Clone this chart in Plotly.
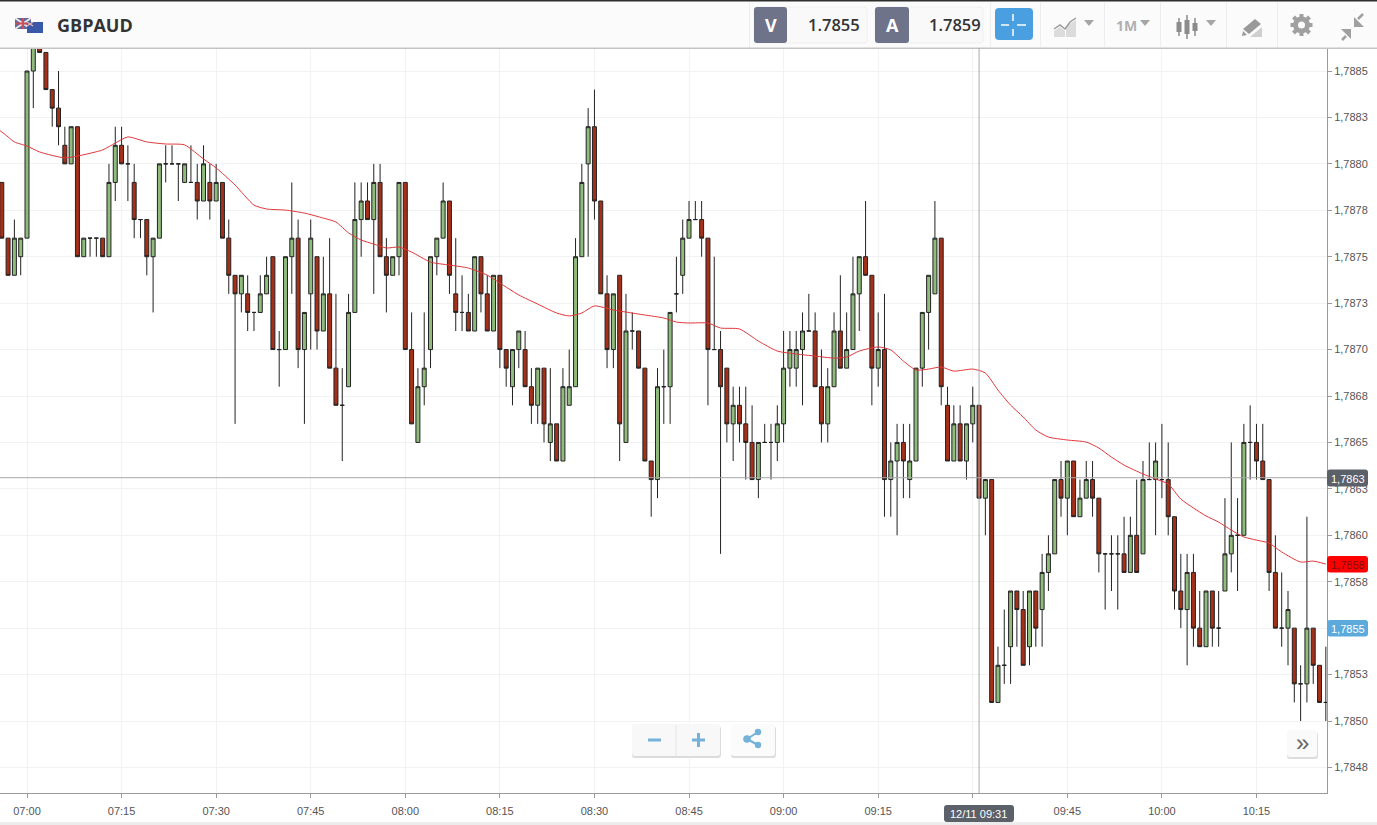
import pandas as pd
import plotly.graph_objects as go

# Candle values, in pips above 1.7800 (one row per minute from 06:56)
PIP = 0.0001
BASE = 1.78
opens = [79,76,74,75,76,85,87,86,84,83,81,80,82,75,76,76,76,75,79,81,80,79,77,77,75,76,80,80,80,79,
         79,79,78,79,78,79,76,74,73,73,72,72,73,75,70,70,75,76,70,73,75,71,73,69,67,68,72,77,78,77,
         79,75,74,75,79,70,65,68,70,75,76,78,73,72,72,71,75,73,71,74,70,68,70,70,68,67,69,65,66,64,
         67,68,75,80,82,78,73,70,74,65,71,71,69,64,63,68,68,73,74,76,77,77,76,70,70,69,66,67,66,65,
         63,65,65,65,66,69,69,70,71,71,68,66,68,71,69,70,73,75,74,69,70,63,64,65,63,64,69,72,73,76,
         67,64,66,64,66,67,62,63,51,53,54,57,56,54,57,56,58,59,63,62,64,61,62,63,62,59,59,59,59,58,
         60,59,63,63,63,63,61,57,56,58,55,54,57,55,57,59,60,60,65,65,64,63,58,55,55,55,52,52,55,53,51]
highs = [79,76,77,76,85,87,87,86,84,85,82,82,82,76,76,76,76,80,82,82,81,80,77,77,76,80,81,81,80,80,
         81,80,81,80,80,79,77,74,74,74,72,74,75,75,71,75,79,77,72,77,75,75,76,73,69,73,79,79,79,80,
         80,76,75,79,79,72,69,72,75,76,79,78,76,74,73,75,75,74,74,74,70,70,71,71,69,69,69,69,66,69,
         70,76,80,83,84,78,74,73,74,73,72,71,69,64,69,70,72,75,77,78,78,78,76,75,71,69,68,68,68,67,
         65,66,66,67,71,71,71,72,73,72,70,69,72,74,72,75,75,78,74,72,73,65,66,66,66,69,72,74,78,76,
         68,67,67,66,68,67,63,63,54,56,57,57,57,57,57,59,60,63,64,64,64,63,64,64,62,59,60,60,61,61,
         63,64,65,65,66,65,61,59,59,59,57,57,57,57,62,65,62,66,67,66,66,63,60,58,57,55,53,61,55,53,54]
lows = [76,74,74,74,76,83,86,84,82,81,80,80,75,75,75,75,75,75,78,80,78,76,76,74,72,76,79,80,78,79,
        79,77,78,77,78,76,73,66,72,71,71,72,73,70,68,70,73,69,66,70,70,71,69,67,64,68,72,75,77,73,
        75,72,74,74,70,66,65,67,69,74,76,73,71,71,71,71,72,71,71,69,68,67,69,68,66,66,65,64,64,64,
        67,68,75,75,77,73,69,69,64,65,70,69,64,61,62,66,66,72,73,76,77,75,67,70,59,65,64,65,63,63,
        62,65,63,64,65,68,68,67,71,68,65,65,68,69,69,70,71,74,67,68,61,61,60,62,62,64,68,70,73,67,
        64,64,64,63,65,62,60,51,51,52,52,54,53,53,54,54,57,59,61,60,61,61,62,61,58,56,57,56,58,58,
        58,59,63,60,62,60,56,55,53,54,54,54,54,54,57,58,57,60,63,63,63,57,55,54,53,51,50,51,52,51,50]
closes = [76,74,76,76,85,87,86,84,83,82,80,82,75,76,76,76,75,79,81,80,80,77,77,75,76,80,80,80,80,80,
          79,78,80,78,79,76,74,73,74,72,72,73,74,70,70,75,76,70,72,76,71,73,69,67,67,72,77,78,77,79,
          75,74,75,79,70,66,68,69,75,76,78,74,72,72,71,75,73,71,74,70,69,70,71,68,67,69,66,66,64,68,
          68,75,79,82,78,73,70,73,66,71,71,69,64,63,68,68,72,73,76,77,77,76,70,70,68,66,67,66,65,63,
          65,65,65,66,69,70,70,71,71,68,66,68,71,69,70,73,75,74,69,70,63,64,65,64,64,69,72,74,76,68,
          64,66,64,66,67,62,63,51,53,53,57,56,53,57,55,58,59,63,62,64,61,62,63,62,59,59,59,59,58,60,
          58,63,63,64,63,61,57,56,58,55,54,57,55,55,59,60,60,65,65,64,63,58,55,55,56,52,52,55,53,51,51]

# Moving average: minutes after 07:00 and value in pips above 1.7800
ma_minutes = [-5,-4,-3,-2,0,2,6,8,12,14,16,19,22,25,28,30,33,36,38,41,44,47,49,51,53,55,57,59,61,64,67,70,73,75,78,81,84,86,88,90,93,95,98,
              101,103,105,108,110,113,116,119,122,125,128,130,132,135,137,139,141,143,145,147,150,152,154,156,158,160,162,165,168,170,
              172,174,177,179,181,183,185,187,189,191,193,195,197,199,202,204,206]
ma_values = [81.95,81.72,81.45,81.18,80.96,80.64,80.32,80.42,80.75,81.12,81.45,81.18,81.07,81.02,80.26,79.78,78.86,77.78,77.57,77.51,77.35,77.08,
             76.87,76.28,75.90,75.68,75.47,75.52,75.25,74.71,74.55,74.39,74.01,73.58,72.94,72.45,71.97,71.81,71.97,72.35,72.13,72.02,71.86,
             71.70,71.48,71.43,71.43,71.16,71.11,70.46,69.92,69.76,69.65,69.54,69.60,69.92,70.14,69.98,69.38,68.90,68.95,69.06,68.84,68.95,
             68.74,67.82,67.01,66.37,65.67,65.29,65.13,65.02,64.70,64.21,63.78,63.30,63.03,62.76,61.95,61.47,61.04,60.71,60.28,59.91,59.74,
             59.58,59.10,58.56,58.61,58.45]

y_tick_values = [1.7885,1.78825,1.788,1.78775,1.7875,1.78725,1.787,1.78675,1.7865,1.78625,1.786,1.78575,1.7855,1.78525,1.785,1.78475]
y_tick_labels = ["1,7885","1,7883","1,7880","1,7878","1,7875","1,7873","1,7870","1,7868","1,7865","1,7863","1,7860","1,7858","","1,7853","1,7850","1,7848"]
x_tick_labels = ["07:00","07:15","07:30","07:45","08:00","08:15","08:30","08:45","09:00","09:15","","09:45","10:00","10:15"]

symbol = "GBPAUD"
bid_text, ask_text = "1.7855", "1.7859"
cross_price, cross_label = 1.78631, "1,7863"
ma_label, ask_line_label = "1,7858", "1,7855"
cross_time = "2017-12-11 09:31"
cross_time_label = "12/11 09:31"

DAY = pd.Timestamp("2017-12-11 07:00")
n = len(opens)
times = [DAY + pd.Timedelta(minutes=k - 4) for k in range(n)]
ma_times = [DAY + pd.Timedelta(minutes=m) for m in ma_minutes]
px = lambda v: BASE + v * PIP

W, H = 1377, 825
L, R, T, B = 0, 1327, 48, 793   # plot area, pixels
X = lambda v: (v - L) / (R - L)
Y = lambda v: 1 - (v - T) / (B - T)

GRID = "#f1f2f3"
AXIS = "#9a9a9a"
shapes, notes = [], []


def rect(x0, y0, x1, y1, fill, line=None, lw=1):
    shapes.append(dict(type="rect", xref="paper", yref="paper", x0=X(x0), x1=X(x1), y0=Y(y0), y1=Y(y1),
                       fillcolor=fill, line=dict(color=line or fill, width=lw if line else 0), layer="above"))


def rrect(x0, y0, x1, y1, fill, r=3, line=None):
    d = (f"M{X(x0+r)},{Y(y0)} L{X(x1-r)},{Y(y0)} Q{X(x1)},{Y(y0)} {X(x1)},{Y(y0+r)} L{X(x1)},{Y(y1-r)} "
         f"Q{X(x1)},{Y(y1)} {X(x1-r)},{Y(y1)} L{X(x0+r)},{Y(y1)} Q{X(x0)},{Y(y1)} {X(x0)},{Y(y1-r)} "
         f"L{X(x0)},{Y(y0+r)} Q{X(x0)},{Y(y0)} {X(x0+r)},{Y(y0)} Z")
    shapes.append(dict(type="path", xref="paper", yref="paper", path=d, fillcolor=fill,
                       line=dict(color=line or fill, width=1 if line else 0), layer="above"))


def poly(pts, fill=None, line=None, lw=1, close=True):
    d = "M" + " L".join(f"{X(a)},{Y(b)}" for a, b in pts) + (" Z" if close else "")
    shapes.append(dict(type="path", xref="paper", yref="paper", path=d, fillcolor=fill or "rgba(0,0,0,0)",
                       line=dict(color=line or "rgba(0,0,0,0)", width=lw), layer="above"))


def circle(cx, cy, r, fill):
    shapes.append(dict(type="circle", xref="paper", yref="paper", x0=X(cx - r), x1=X(cx + r), y0=Y(cy - r), y1=Y(cy + r),
                       fillcolor=fill, line=dict(width=0), layer="above"))


def text(x, y, s, size=11, color="#555", family="Liberation Sans", anchor="center", weight=None):
    f = dict(size=size, color=color, family=family)
    if weight:
        f["weight"] = weight
    notes.append(dict(x=X(x), y=Y(y), xref="paper", yref="paper", text=s, showarrow=False, font=f,
                      xanchor=anchor, yanchor="middle", borderpad=0, borderwidth=0))


# Header bar
rect(0, 0, W, 47.5, "#fbfbfb")
rect(0, 0, W, 1.5, "#2e2e2e")
rect(0, 47.5, W, 49, "#c4c4c4")
# Flags
rect(15, 18, 31, 29, "#5a6aa0")
poly([(15, 18), (31, 29)], line="#f0e6e6", lw=2, close=False)
poly([(31, 18), (15, 29)], line="#f0e6e6", lw=2, close=False)
poly([(23, 18), (23, 29)], line="#c8505a", lw=2, close=False)
poly([(15, 23.5), (31, 23.5)], line="#c8505a", lw=2, close=False)
rect(27, 22, 43, 33, "#3a58a8")
poly([(27, 22), (33, 26)], line="#e8b0b0", lw=1.5, close=False)
poly([(33, 22), (27, 26)], line="#e8b0b0", lw=1.5, close=False)
text(57, 25.5, symbol, size=18, color="#333", family="Open Sans", anchor="left", weight=700)
# Bid / ask
rrect(754, 7, 867, 43, "#f9f9f9", line="#efefef")
rrect(754, 7, 787, 43, "#6e7389")
text(771, 25.5, "V", size=18, color="#fff", family="Open Sans", weight=700)
text(860, 24.5, bid_text, size=16.5, color="#333", family="Open Sans", anchor="right", weight=600)
rrect(875, 7, 983, 43, "#f9f9f9", line="#efefef")
rrect(875, 7, 909, 43, "#6e7389")
text(892, 25.5, "A", size=18, color="#fff", family="Open Sans", weight=700)
text(981, 24.5, ask_text, size=16.5, color="#333", family="Open Sans", anchor="right", weight=600)
# Crosshair button
rrect(995, 8, 1033, 40, "#4a9fe0", r=4)
for seg in ([(1001, 25), (1009, 25)], [(1017, 25), (1026, 25)], [(1013, 14), (1013, 21)], [(1013, 29), (1013, 36)]):
    poly(seg, line="#fff", lw=1.5, close=False)
# Toolbar separators
for sx in (749, 990, 1040, 1104, 1160, 1226, 1277):
    rect(sx, 2, sx + 1, 47, "#ededed")
# Chart-type icon
poly([(1054, 37), (1054, 31), (1060, 27), (1065, 31), (1065, 37)], fill="#dcdcdc")
poly([(1066, 37), (1066, 26), (1076, 20), (1076, 37)], fill="#dcdcdc")
poly([(1054, 29), (1060, 25), (1065, 29), (1070, 22), (1076, 18)], line="#9b9b9b", lw=1.5, close=False)
# Carets
for cx in (1089, 1145, 1211):
    poly([(cx - 5, 20), (cx + 5, 20), (cx, 26)], fill="#a6a6a6")
text(1126, 25.5, "1M", size=14, color="#b0b0b0", family="Open Sans", weight=700)
# Candle icon
for cx, y0, y1, wy0, wy1 in ((1179, 22, 32, 18, 36), (1187, 20, 34, 15, 39), (1195, 23, 31, 18, 36)):
    poly([(cx, wy0), (cx, wy1)], line="#8b8b8b", lw=1.5, close=False)
    rect(cx - 2.5, y0, cx + 2.5, y1, "#8b8b8b")
# Pen icon
poly([(1243, 29), (1255, 19), (1261, 24), (1249, 34)], fill="#9a9a9a")
poly([(1242, 36), (1243, 31), (1247, 35)], fill="#9a9a9a")
poly([(1250, 37), (1262, 27), (1262, 37)], fill="#cfcfcf")
# Gear
GX, GY = 1301.5, 25
for a, b in ((0, 11), (8, 8), (11, 0), (8, -8)):
    poly([(GX - a, GY - b), (GX + a, GY + b)], line="#a0a0a0", lw=4, close=False)
circle(GX, GY, 8.5, "#a0a0a0")
circle(GX, GY, 3.5, "#fbfbfb")
# Collapse icon
poly([(1346, 36), (1342, 40)], line="#a0a0a0", lw=2.5, close=False)
poly([(1341, 29), (1351, 29), (1351, 39)], fill="#a0a0a0")
poly([(1358, 19), (1363, 14)], line="#a0a0a0", lw=2.5, close=False)
poly([(1354, 17), (1354, 27), (1364, 27)], fill="#a0a0a0")

# Right column labels
rrect(1327, 469.5, 1368, 486.5, "#5c6068")
text(1348, 478.5, cross_label, color="#fff", size=11)
rrect(1327, 556, 1368, 572.5, "#ff0000")
text(1348, 564.5, ma_label, color="#7a1010", size=11)
rrect(1327, 620, 1368, 636.5, "#5baadb")
text(1348, 628.5, ask_line_label, color="#fff", size=11)

# Zoom buttons
rrect(632, 726, 721, 758, "#dcdcdc")
rrect(632, 724, 720, 756, "#f8f8f8")
rect(675.5, 725, 676.5, 756, "#e4e4e4")
rect(648, 738.5, 661, 741.5, "#74b2da")
rect(692, 738.5, 705, 741.5, "#74b2da")
rect(697, 733, 700, 747, "#74b2da")
rrect(731, 726, 776, 758, "#dcdcdc")
rrect(731, 724, 775, 756, "#fbfbfb")
poly([(747, 739), (758, 732)], line="#74b2da", lw=2, close=False)
poly([(747, 739), (758, 745)], line="#74b2da", lw=2, close=False)
circle(747, 739, 3.8, "#74b2da")
circle(758, 732, 3.2, "#74b2da")
circle(758, 745, 3.2, "#74b2da")
rrect(1287, 732, 1318, 759, "#dddddd")
rrect(1287, 730, 1317, 757, "#fafafa")
text(1302, 742, "\u00bb", size=24, color="#666", family="Liberation Sans")

# Bottom strip and time label
rect(0, 822, W, 825, "#ececec")
rrect(944, 805, 1014, 822, "#5c6068")
text(979, 814, cross_time_label, color="#fff", size=11)

# Crosshair lines, drawn from data positions
shapes.append(dict(type="line", xref="paper", yref="y", x0=0, x1=1, y0=cross_price, y1=cross_price,
                   line=dict(color="#a8a8a8", width=1), layer="above"))
shapes.append(dict(type="line", xref="x", yref="paper", x0=cross_time, x1=cross_time, y0=0, y1=1,
                   line=dict(color="#a8a8a8", width=1), layer="above"))

fig = go.Figure()
fig.add_trace(go.Candlestick(
    x=times,
    open=[px(v) for v in opens], high=[px(v) for v in highs],
    low=[px(v) for v in lows], close=[px(v) for v in closes],
    increasing=dict(fillcolor="#8fbb7c", line=dict(color="#222", width=1)),
    decreasing=dict(fillcolor="#a5301a", line=dict(color="#222", width=1)),
    whiskerwidth=0, showlegend=False, name=symbol,
))
fig.add_trace(go.Scatter(
    x=ma_times, y=[px(v) for v in ma_values], mode="lines",
    line=dict(color="#e2363a", width=1, shape="spline", smoothing=0.6),
    showlegend=False, name="MA",
))

ppu = 650 / 0.0035
SCALE = 6.305
start = DAY + pd.Timedelta(minutes=-27 / SCALE)
end = DAY + pd.Timedelta(minutes=(1327 - 27) / SCALE)
tick_times = [DAY + pd.Timedelta(minutes=15 * i) for i in range(len(x_tick_labels))]
fig.update_layout(
    width=W, height=H, autosize=False,
    margin=dict(l=L, r=W - R, t=T, b=H - B, pad=0),
    paper_bgcolor="#ffffff", plot_bgcolor="#ffffff",
    boxgap=0.1, dragmode=False, hovermode=False,
    shapes=shapes, annotations=notes,
    xaxis=dict(type="date", range=[start, end], rangeslider=dict(visible=False),
               tickmode="array", tickvals=tick_times, ticktext=x_tick_labels,
               showgrid=True, gridcolor=GRID, gridwidth=1, zeroline=False,
               showline=True, linecolor=AXIS, linewidth=1, ticks="outside", ticklen=4, tickcolor=AXIS,
               ticklabelstandoff=4,
               tickfont=dict(family="Liberation Sans", size=11, color="#555")),
    yaxis=dict(side="right", range=[1.785 - 72 / ppu, 1.7885 + 23 / ppu],
               tickmode="array", tickvals=y_tick_values, ticktext=y_tick_labels,
               showgrid=True, gridcolor=GRID, gridwidth=1, zeroline=False,
               showline=True, linecolor=AXIS, linewidth=1, ticks="outside", ticklen=4, tickcolor=AXIS,
               tickfont=dict(family="Liberation Sans", size=11, color="#555")),
)
fig.write_html("out.html", config=dict(displayModeBar=False),
               post_script="document.body.style.margin='0';document.body.style.overflow='hidden';")
